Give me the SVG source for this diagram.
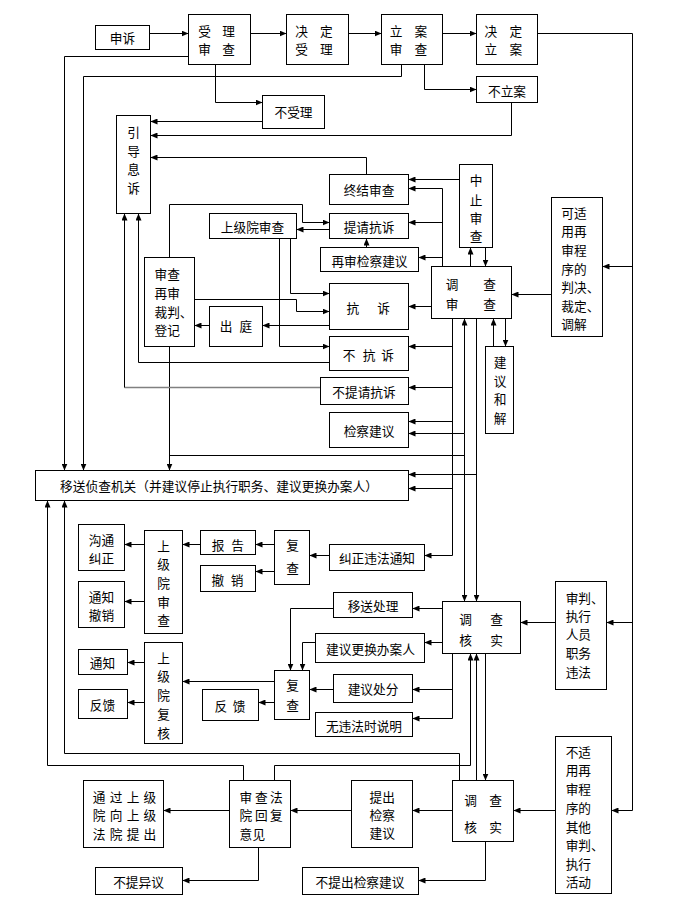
<svg xmlns="http://www.w3.org/2000/svg" width="673" height="914" viewBox="0 0 673 914">
<style>
.b{fill:#fff;stroke:#000;stroke-width:1}
.t{font-family:"Noto Sans CJK SC","Noto Sans CJK JP",sans-serif;font-size:12.7px;fill:#000;dominant-baseline:central}
.c{text-anchor:middle}
.l{fill:none;stroke:#000;stroke-width:1}
.a{marker-end:url(#ah)}
.g{fill:none;stroke:#808080;stroke-width:1.6}
</style>
<defs>
<marker id="ah" markerUnits="userSpaceOnUse" markerWidth="7" markerHeight="6" refX="7" refY="3" orient="auto">
<path d="M0,0 L7,3 L0,6 z" fill="#000"/>
</marker>
</defs>
<rect width="673" height="914" fill="#fff"/>
<g id="connectors">
<path class="l a" d="M149.5,33.5 H188.5"/>
<path class="l a" d="M250.5,33.5 H286.5"/>
<path class="l a" d="M348.5,33.5 H381.5"/>
<path class="l a" d="M442.5,33.5 H476.5"/>
<path class="l a" d="M537.5,33.5 H632.5 V810.5 H611.5"/>
<path class="l a" d="M632.5,266.5 H602.5"/>
<path class="l a" d="M632.5,622.5 H606.5"/>
<path class="l a" d="M188.5,56.5 H64.5 V470.5"/>
<path class="l a" d="M401.5,64.5 V76.5 H83.5 V470.5"/>
<path class="l a" d="M215.5,64.5 V102.5 H262.5"/>
<path class="l a" d="M262.5,121.5 H150.5"/>
<path class="l a" d="M424.5,64.5 V89.5 H476.5"/>
<path class="l a" d="M511.5,102.5 V135.5 H150.5"/>
<path class="l a" d="M366.5,174.5 V157.5 H150.5"/>
<path class="l a" d="M459.5,179.5 H408.5"/>
<path class="l a" d="M442.5,266.5 V188.5 H408.5"/>
<path class="l a" d="M442.5,222.5 H408.5"/>
<path class="l a" d="M442.5,257.5 H418.5"/>
<path class="l a" d="M366.5,247.5 V238.5"/>
<path class="l a" d="M329.5,229.5 H296.5"/>
<path class="l a" d="M169.5,257.5 V204.5 H302.5 V222.5 H329.5"/>
<path class="l a" d="M290.5,238.5 V293.5 H329.5"/>
<path class="l a" d="M279.5,238.5 V346.5 H329.5"/>
<path class="l a" d="M194.5,299.5 H296.5 V311.5 H329.5"/>
<path class="l a" d="M329.5,325.5 H262.5"/>
<path class="l a" d="M209.5,325.5 H194.5"/>
<path class="l a" d="M431.5,306.5 H408.5"/>
<path class="l a" d="M551.5,294.5 H511.5"/>
<path class="l a" d="M470.5,266.5 V247.5"/>
<path class="l a" d="M485.5,247.5 V266.5"/>
<path class="l a" d="M493.5,346.5 V318.5"/>
<path class="l a" d="M505.5,318.5 V346.5"/>
<path class="l a" d="M452.5,318.5 V555.5 H424.5"/>
<path class="l a" d="M452.5,346.5 H408.5"/>
<path class="l a" d="M452.5,387.5 H408.5"/>
<path class="l a" d="M452.5,421.5 H408.5"/>
<path class="l a" d="M452.5,488.5 H408.5"/>
<path class="l a" d="M464.5,433.5 V318.5"/>
<path class="l a" d="M464.5,433.5 V601.5"/>
<path class="l a" d="M464.5,433.5 H408.5"/>
<path class="l" d="M169.5,455.5 H464.5"/>
<path class="l a" d="M476.5,318.5 V601.5"/>
<path class="l a" d="M476.5,474.5 H408.5"/>
<path class="l a" d="M169.5,346.5 V470.5"/>
<path class="l a" d="M329.5,362.5 H138.5 V213.5"/>
<path class="g" d="M320.5,387.5 H124.5"/>
<path class="l a" d="M124.5,387.5 V213.5"/>
<path class="l a" d="M442.5,608.5 H412.5"/>
<path class="l a" d="M333.5,608.5 H290.5 V670.5"/>
<path class="l a" d="M442.5,642.5 H424.5"/>
<path class="l a" d="M315.5,642.5 H302.5 V670.5"/>
<path class="l a" d="M333.5,689.5 H309.5"/>
<path class="l a" d="M274.5,681.5 H182.5"/>
<path class="l a" d="M274.5,702.5 H258.5"/>
<path class="l a" d="M144.5,662.5 H127.5"/>
<path class="l a" d="M144.5,702.5 H127.5"/>
<path class="l a" d="M452.5,653.5 V718.5 H412.5"/>
<path class="l a" d="M452.5,689.5 H412.5"/>
<path class="l a" d="M555.5,622.5 H520.5"/>
<path class="l a" d="M329.5,555.5 H309.5"/>
<path class="l a" d="M274.5,544.5 H255.5"/>
<path class="l a" d="M274.5,571.5 H255.5"/>
<path class="l a" d="M200.5,544.5 H182.5"/>
<path class="l a" d="M144.5,544.5 H124.5"/>
<path class="l a" d="M144.5,601.5 H124.5"/>
<path class="l a" d="M485.5,653.5 V780.5"/>
<path class="l a" d="M476.5,780.5 V653.5"/>
<path class="l a" d="M274.5,780.5 V765.5 H470.5 V653.5"/>
<path class="l a" d="M243.5,780.5 V765.5 H47.5 V500.5"/>
<path class="l a" d="M459.5,780.5 V753.5 H64.5 V500.5"/>
<path class="l a" d="M555.5,810.5 H513.5"/>
<path class="l a" d="M452.5,810.5 H412.5"/>
<path class="l a" d="M351.5,810.5 H290.5"/>
<path class="l a" d="M229.5,810.5 H163.5"/>
<path class="l a" d="M258.5,847.5 V880.5 H182.5"/>
<path class="l a" d="M485.5,841.5 V880.5 H418.5"/>
</g>
<g id="n_shensu"><rect class="b" x="95.5" y="25.5" width="54" height="24"/><text class="t c" x="122.5" y="37.5">申诉</text></g>
<g id="n_slsc"><rect class="b" x="188.5" y="14.5" width="62" height="50"/><text class="t c"><tspan x="204.5" y="30.2">受</tspan><tspan x="228.5" y="30.2">理</tspan><tspan x="204.5" y="47.5">审</tspan><tspan x="228.5" y="47.5">查</tspan></text></g>
<g id="n_jdsl"><rect class="b" x="286.5" y="14.5" width="62" height="50"/><text class="t c"><tspan x="301.7" y="30.2">决</tspan><tspan x="326.3" y="30.2">定</tspan><tspan x="301.7" y="47.5">受</tspan><tspan x="326.3" y="47.5">理</tspan></text></g>
<g id="n_lasc"><rect class="b" x="381.5" y="14.5" width="61" height="50"/><text class="t c"><tspan x="396" y="30.2">立</tspan><tspan x="420.8" y="30.2">案</tspan><tspan x="396" y="47.5">审</tspan><tspan x="420.8" y="47.5">查</tspan></text></g>
<g id="n_jdla"><rect class="b" x="476.5" y="14.5" width="61" height="50"/><text class="t c"><tspan x="490.8" y="30.2">决</tspan><tspan x="515.8" y="30.2">定</tspan><tspan x="490.8" y="47.5">立</tspan><tspan x="515.8" y="47.5">案</tspan></text></g>
<g id="n_bsl"><rect class="b" x="262.5" y="95.5" width="62" height="33"/><text class="t c" x="293.5" y="111.5">不受理</text></g>
<g id="n_bla"><rect class="b" x="476.5" y="76.5" width="61" height="26"/><text class="t c" x="507" y="90">不立案</text></g>
<g id="n_ydxs"><rect class="b" x="116.5" y="115.5" width="34" height="98"/><text class="t c"><tspan x="133.5" y="131.3">引</tspan><tspan x="133.5" y="150">导</tspan><tspan x="133.5" y="168.3">息</tspan><tspan x="133.5" y="186.8">诉</tspan></text></g>
<g id="n_zjsc"><rect class="b" x="329.5" y="174.5" width="79" height="30"/><text class="t c" x="369" y="189.5">终结审查</text></g>
<g id="n_zzsc"><rect class="b" x="459.5" y="164.5" width="33" height="83"/><text class="t c"><tspan x="476" y="179.2">中</tspan><tspan x="476" y="199">止</tspan><tspan x="476" y="216.8">审</tspan><tspan x="476" y="234.5">查</tspan></text></g>
<g id="n_sjysc"><rect class="b" x="209.5" y="213.5" width="87" height="25"/><text class="t c" x="252.5" y="226.5">上级院审查</text></g>
<g id="n_tqks"><rect class="b" x="329.5" y="213.5" width="79" height="25"/><text class="t c" x="369" y="226.5">提请抗诉</text></g>
<g id="n_zsjcjy"><rect class="b" x="320.5" y="247.5" width="98" height="24"/><text class="t c" x="369.5" y="260">再审检察建议</text></g>
<g id="n_dcsc"><rect class="b" x="431.5" y="266.5" width="80" height="52"/><text class="t c"><tspan x="452" y="282.5">调</tspan><tspan x="489.5" y="282.5">查</tspan><tspan x="452" y="303.3">审</tspan><tspan x="489.5" y="303.3">查</tspan></text></g>
<g id="n_kysy"><rect class="b" x="551.5" y="197.5" width="51" height="139"/><text class="t"><tspan x="561.3" y="211.7">可适</tspan><tspan x="561.3" y="230.3">用再</tspan><tspan x="561.3" y="248.9">审程</tspan><tspan x="561.3" y="267.5">序的</tspan><tspan x="561.3" y="286.1">判决、</tspan><tspan x="561.3" y="304.7">裁定、</tspan><tspan x="561.3" y="323.3">调解</tspan></text></g>
<g id="n_sczs"><rect class="b" x="144.5" y="257.5" width="50" height="89"/><text class="t"><tspan x="154.5" y="272.7">审查</tspan><tspan x="154.5" y="291.7">再审</tspan><tspan x="154.5" y="310.7">裁判、</tspan><tspan x="154.5" y="329.3">登记</tspan></text></g>
<g id="n_ct"><rect class="b" x="209.5" y="306.5" width="53" height="40"/><text class="t c"><tspan x="226" y="325.2">出</tspan><tspan x="245.8" y="325.2">庭</tspan></text></g>
<g id="n_ks"><rect class="b" x="329.5" y="283.5" width="79" height="46"/><text class="t c"><tspan x="352.8" y="306.7">抗</tspan><tspan x="383.5" y="306.7">诉</tspan></text></g>
<g id="n_bks"><rect class="b" x="329.5" y="336.5" width="79" height="34"/><text class="t c"><tspan x="349" y="354.2">不</tspan><tspan x="369" y="354.2">抗</tspan><tspan x="387.5" y="354.2">诉</tspan></text></g>
<g id="n_btqks"><rect class="b" x="320.5" y="377.5" width="88" height="27"/><text class="t c" x="364" y="391">不提请抗诉</text></g>
<g id="n_jcjy"><rect class="b" x="329.5" y="412.5" width="79" height="35"/><text class="t c" x="369" y="430.5">检察建议</text></g>
<g id="n_jyhj"><rect class="b" x="485.5" y="346.5" width="28" height="87"/><text class="t c"><tspan x="500" y="361">建</tspan><tspan x="500" y="380">议</tspan><tspan x="500" y="398.3">和</tspan><tspan x="500" y="416.7">解</tspan></text></g>
<g id="n_ys"><rect class="b" x="35.5" y="470.5" width="373" height="30"/><text class="t" x="60" y="485.5" textLength="318" lengthAdjust="spacing">移送侦查机关（并建议停止执行职务、建议更换办案人）</text></g>
<g id="n_gtjz"><rect class="b" x="78.5" y="524.5" width="46" height="46"/><text class="t c"><tspan x="101.5" y="539">沟通</tspan><tspan x="101.5" y="557.3">纠正</tspan></text></g>
<g id="n_tzcx"><rect class="b" x="78.5" y="581.5" width="46" height="46"/><text class="t c"><tspan x="101.5" y="596">通知</tspan><tspan x="101.5" y="614.3">撤销</tspan></text></g>
<g id="n_sjysc2"><rect class="b" x="144.5" y="530.5" width="38" height="103"/><text class="t c"><tspan x="163.5" y="545">上</tspan><tspan x="163.5" y="563.3">级</tspan><tspan x="163.5" y="582.3">院</tspan><tspan x="163.5" y="601">审</tspan><tspan x="163.5" y="619.3">查</tspan></text></g>
<g id="n_bg"><rect class="b" x="200.5" y="530.5" width="55" height="24"/><text class="t c"><tspan x="218" y="543.5">报</tspan><tspan x="237.5" y="543.5">告</tspan></text></g>
<g id="n_cx"><rect class="b" x="200.5" y="565.5" width="55" height="26"/><text class="t c"><tspan x="217.8" y="579">撤</tspan><tspan x="237" y="579">销</tspan></text></g>
<g id="n_fc1"><rect class="b" x="274.5" y="530.5" width="35" height="54"/><text class="t c"><tspan x="292.5" y="544.2">复</tspan><tspan x="292.5" y="566.7">查</tspan></text></g>
<g id="n_jzwftz"><rect class="b" x="329.5" y="544.5" width="95" height="26"/><text class="t c" x="377" y="557.5">纠正违法通知</text></g>
<g id="n_dchs1"><rect class="b" x="442.5" y="601.5" width="78" height="52"/><text class="t c"><tspan x="465.5" y="617.5">调</tspan><tspan x="496.5" y="617.5">查</tspan><tspan x="465.5" y="638.8">核</tspan><tspan x="496.5" y="638.8">实</tspan></text></g>
<g id="n_spzxwf"><rect class="b" x="555.5" y="581.5" width="51" height="108"/><text class="t"><tspan x="565.7" y="596.7">审判、</tspan><tspan x="565.7" y="615">执行</tspan><tspan x="565.7" y="633.3">人员</tspan><tspan x="565.7" y="652.3">职务</tspan><tspan x="565.7" y="671">违法</tspan></text></g>
<g id="n_yscl"><rect class="b" x="333.5" y="592.5" width="79" height="25"/><text class="t c" x="373" y="605.5">移送处理</text></g>
<g id="n_jyghbar"><rect class="b" x="315.5" y="633.5" width="109" height="29"/><text class="t c" x="370.5" y="648">建议更换办案人</text></g>
<g id="n_jycf"><rect class="b" x="333.5" y="674.5" width="79" height="28"/><text class="t c" x="373" y="688.5">建议处分</text></g>
<g id="n_wwfsm"><rect class="b" x="315.5" y="712.5" width="97" height="24"/><text class="t c" x="364" y="725">无违法时说明</text></g>
<g id="n_fc2"><rect class="b" x="274.5" y="670.5" width="35" height="49"/><text class="t c"><tspan x="292.5" y="683.5">复</tspan><tspan x="292.5" y="703.8">查</tspan></text></g>
<g id="n_fk2"><rect class="b" x="202.5" y="689.5" width="56" height="31"/><text class="t c"><tspan x="220.8" y="704.5">反</tspan><tspan x="239.2" y="704.5">馈</tspan></text></g>
<g id="n_sjyfh"><rect class="b" x="144.5" y="642.5" width="38" height="101"/><text class="t c"><tspan x="163.5" y="656.7">上</tspan><tspan x="163.5" y="675">级</tspan><tspan x="163.5" y="694.3">院</tspan><tspan x="163.5" y="713.3">复</tspan><tspan x="163.5" y="731.7">核</tspan></text></g>
<g id="n_tz"><rect class="b" x="78.5" y="649.5" width="49" height="25"/><text class="t c" x="102.5" y="662">通知</text></g>
<g id="n_fk1"><rect class="b" x="78.5" y="689.5" width="49" height="29"/><text class="t c" x="102.5" y="704">反馈</text></g>
<g id="n_tgsj"><rect class="b" x="83.5" y="780.5" width="80" height="67"/><text class="t c"><tspan x="99.2" y="796">通</tspan><tspan x="116.1" y="796">过</tspan><tspan x="133" y="796">上</tspan><tspan x="149.9" y="796">级</tspan><tspan x="99.2" y="814">院</tspan><tspan x="116.1" y="814">向</tspan><tspan x="133" y="814">上</tspan><tspan x="149.9" y="814">级</tspan><tspan x="99.2" y="832.7">法</tspan><tspan x="116.1" y="832.7">院</tspan><tspan x="133" y="832.7">提</tspan><tspan x="149.9" y="832.7">出</tspan></text></g>
<g id="n_scfy"><rect class="b" x="229.5" y="780.5" width="61" height="67"/><text class="t c"><tspan x="245.8" y="795.8">审</tspan><tspan x="261.3" y="795.8">查</tspan><tspan x="276.3" y="795.8">法</tspan><tspan x="245.8" y="814.2">院</tspan><tspan x="261.3" y="814.2">回</tspan><tspan x="276.3" y="814.2">复</tspan><tspan x="245.8" y="832.5">意</tspan><tspan x="258.8" y="832.5">见</tspan></text></g>
<g id="n_tcjcjy"><rect class="b" x="351.5" y="780.5" width="61" height="67"/><text class="t c"><tspan x="382.3" y="795.7">提出</tspan><tspan x="382.3" y="814.3">检察</tspan><tspan x="382.3" y="832.3">建议</tspan></text></g>
<g id="n_dchs2"><rect class="b" x="452.5" y="780.5" width="61" height="61"/><text class="t c"><tspan x="470.5" y="799.2">调</tspan><tspan x="495.5" y="799.2">查</tspan><tspan x="470.5" y="825.8">核</tspan><tspan x="495.5" y="825.8">实</tspan></text></g>
<g id="n_bsyyf"><rect class="b" x="555.5" y="736.5" width="56" height="157"/><text class="t"><tspan x="565.7" y="751">不适</tspan><tspan x="565.7" y="769.3">用再</tspan><tspan x="565.7" y="788.3">审程</tspan><tspan x="565.7" y="807.3">序的</tspan><tspan x="565.7" y="825.7">其他</tspan><tspan x="565.7" y="844">审判、</tspan><tspan x="565.7" y="862.7">执行</tspan><tspan x="565.7" y="881.3">活动</tspan></text></g>
<g id="n_btyy"><rect class="b" x="95.5" y="867.5" width="87" height="27"/><text class="t c" x="138.5" y="881">不提异议</text></g>
<g id="n_btcjcjy"><rect class="b" x="302.5" y="867.5" width="116" height="27"/><text class="t c" x="360" y="881">不提出检察建议</text></g>
</svg>
